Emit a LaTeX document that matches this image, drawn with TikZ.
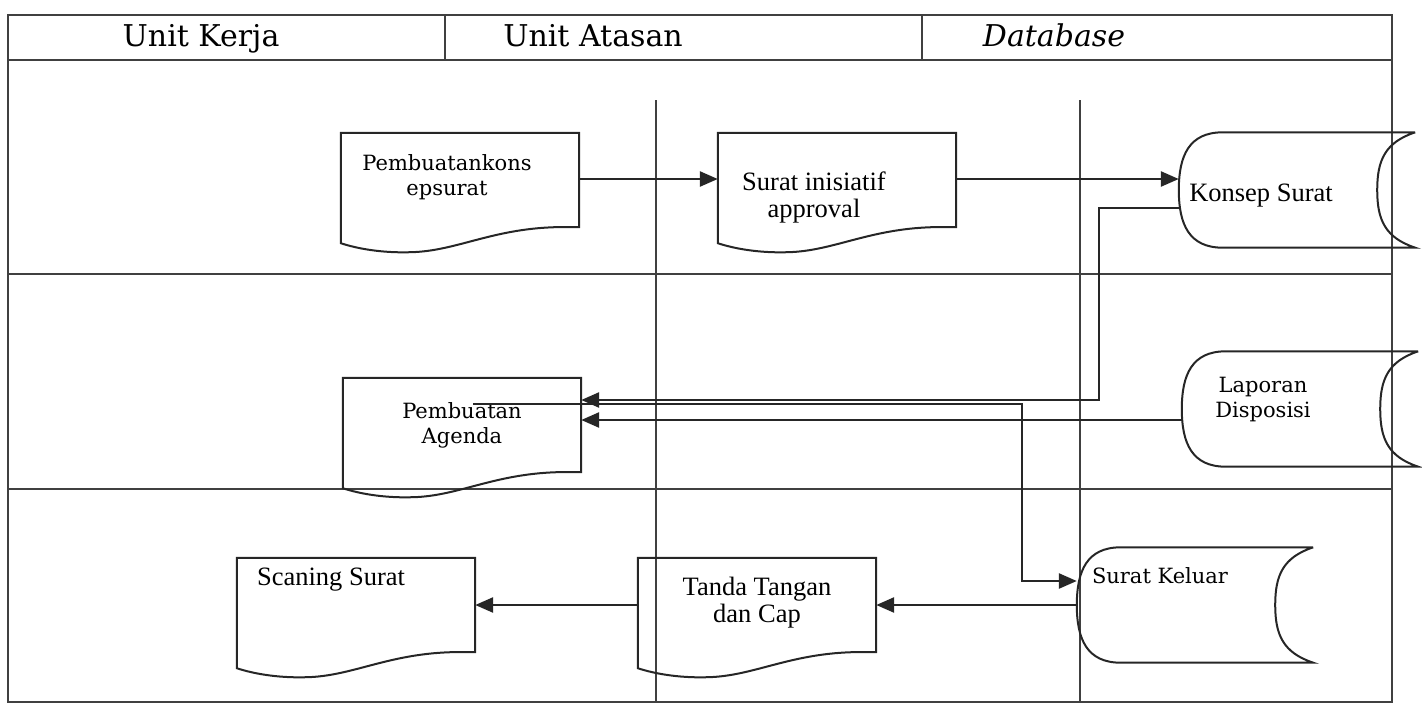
\documentclass[tikz,border=0pt]{standalone}
\usepackage{fontspec}
\setmainfont{DejaVu Serif}
\newfontfamily\timesfont{Liberation Serif}
\usetikzlibrary{arrows.meta}

% dokumen: kotak dengan sisi bawah bergelombang
\newcommand{\dokumen}[1]{%
  \draw[garis] (#1.south east) -- (#1.north east) -- (#1.north west) -- ([yshift=-16pt]#1.south west)
    .. controls ([xshift=15pt,yshift=-21pt]#1.south west) and ([xshift=40pt,yshift=-26pt]#1.south west)
    .. ([xshift=70pt,yshift=-25pt]#1.south west)
    .. controls ([xshift=115pt,yshift=-24pt]#1.south west) and ([xshift=150pt,yshift=-2pt]#1.south west)
    .. ([xshift=214pt]#1.south west) -- cycle;}
% data tersimpan
\newcommand{\simpan}[1]{%
  \draw[garis] (#1.north east) -- ([xshift=44pt]#1.north west)
    .. controls ([xshift=10pt]#1.north west) and ([yshift=34pt]#1.west) .. (#1.west)
    .. controls ([yshift=-34pt]#1.west) and ([xshift=10pt]#1.south west) .. ([xshift=44pt]#1.south west)
    -- (#1.south east)
    .. controls ([xshift=-30pt,yshift=10pt]#1.south east) and ([xshift=-38pt,yshift=-30pt]#1.east) .. ([xshift=-38pt]#1.east)
    .. controls ([xshift=-38pt,yshift=30pt]#1.east) and ([xshift=-30pt,yshift=-10pt]#1.north east) .. (#1.north east);}

\begin{document}
\begin{tikzpicture}[x=1pt,y=-1pt,>={Triangle[length=18pt,width=15pt]},
  garis/.style={line width=2pt,draw=black!85},
  batas/.style={line width=1.4pt,draw=black!75},
  panah/.style={->,line width=2.6pt,draw=black!85},
  dok/.style={minimum width=238pt,minimum height=94pt,inner sep=0pt},
  dbs/.style={minimum width=236pt,minimum height=115pt,inner sep=0pt},
  judul/.style={anchor=base,font=\fontsize{30}{32}\selectfont},
  teksA/.style={font=\fontsize{21}{25}\selectfont,align=center},
  teksB/.style={font=\timesfont\fontsize{26.5}{27}\selectfont,align=center}]
\useasboundingbox (0,0) rectangle (1422,704);

% kolom dan baris
\draw[batas] (8,15) rectangle (1392,702);
\draw[batas] (8,60) -- (1392,60);
\draw[batas] (445,15) -- (445,60);
\draw[batas] (922,15) -- (922,60);
\draw[batas] (8,274) -- (1392,274);
\draw[batas] (8,489) -- (1392,489);
\draw[batas] (656,100) -- (656,702);
\draw[batas] (1080,100) -- (1080,702);

\node[judul] (hkerja) at (201,46) {Unit Kerja};
\node[judul] (hatasan) at (593,46) {Unit Atasan};
\node[judul,font=\fontsize{30}{32}\selectfont\itshape] (hdb) at (1054,46) {Database};

% proses
\node[dok,label={[teksA,xshift=-13pt,yshift=3pt]center:Pembuatankons\\epsurat}] (buat) at (460,180) {};
\node[dok,label={[teksB,xshift=-23pt,yshift=-17pt]center:Surat inisiatif\\approval}] (inisiatif) at (837,180) {};
\node[dok,label={[teksA]center:Pembuatan\\Agenda}] (agenda) at (462,425) {};
\node[dok,label={[teksB,xshift=-25pt,yshift=25pt]center:Scaning Surat}] (scaning) at (356,605) {};
\node[dok,label={[teksB,yshift=2pt]center:Tanda Tangan\\dan Cap}] (tanda) at (757,605) {};
\node[dbs,label={[teksB,xshift=-36pt,yshift=-6pt]center:Konsep Surat}] (konsep) at (1297,190) {};
\node[dbs,label={[teksA,xshift=-37pt,yshift=9pt]center:Laporan\\Disposisi}] (laporan) at (1300,409) {};
\node[dbs,label={[teksA,xshift=-35pt,yshift=29pt]center:Surat Keluar}] (keluar) at (1195,605) {};

\dokumen{buat}
\dokumen{inisiatif}
\dokumen{agenda}
\dokumen{scaning}
\dokumen{tanda}
\simpan{konsep}
\simpan{laporan}
\simpan{keluar}

% alur
\draw[panah] ([yshift=1pt]buat.east) -- ([yshift=1pt]inisiatif.west);
\draw[panah] ([yshift=1pt]inisiatif.east) -- ([yshift=1pt]inisiatif.east -| konsep.west);
\draw[panah] ([yshift=-18pt]konsep.west) -- ++(-80,0) |- ([yshift=25pt]agenda.east);
\draw[panah] ([yshift=-11pt]laporan.west) -- ([yshift=-11pt]laporan.west -| agenda.east);
\draw[panah] ([xshift=11pt,yshift=21pt]agenda.center) -- ++(549,0) |- ([yshift=24pt]keluar.west);
\draw[panah] (keluar.west) -- (tanda.east);
\draw[panah] (tanda.west) -- (scaning.east);
\end{tikzpicture}
\end{document}
